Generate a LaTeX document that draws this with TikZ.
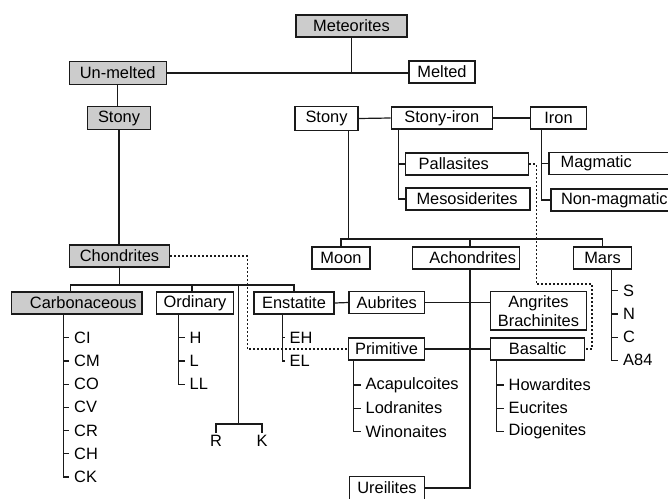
\documentclass[tikz,border=0pt]{standalone}
\usepackage{fontspec}
\setmainfont{Liberation Sans}
\usetikzlibrary{calc,positioning}
\definecolor{ink}{HTML}{1A1A1A}
\definecolor{shade}{HTML}{CCCCCC}
\tikzset{line width=1.2pt,
  every node/.style={font=\fontsize{16.4}{19}\selectfont},
  box/.style={draw=ink,line width=1.2pt,minimum height=22pt,inner sep=0pt},
  graybox/.style={box,fill=shade},
  leftbox/.style={box,align=left},
  rightbox/.style={box,align=right},
  leaf/.style={anchor=west,inner xsep=5pt,inner ysep=0pt},
  link/.style={draw=ink,line width=1.2pt},
  dotline/.style={draw=ink,line width=1.2pt,dash pattern=on 2pt off 2pt}}
\begin{document}
\begin{tikzpicture}[x=1pt,y=-1pt]
\useasboundingbox (0,0) rectangle (668,498);
\clip (0,0) rectangle (668,498);

% upper levels
\node[graybox,minimum width=111pt] (meteorites) at (351.5,26) {Meteorites};
\node[graybox,minimum width=97pt,minimum height=23.5pt] (unmelted) at (117.7,73) {Un-melted};
\node[box,minimum width=66pt] (melted) at (442,72) {Melted};
\node[graybox,minimum width=63.5pt,minimum height=23.5pt] (stonyL) at (119,118) {Stony};
\node[box,minimum width=63pt,minimum height=24pt] (stonyR) at (326.5,118.5) {Stony};
\node[box,minimum width=101pt] (stonyiron) at (441.8,118) {Stony-iron};
\node[box,minimum width=55.6pt] (iron) at (558.5,118) {Iron};
\node[leftbox,text width=97pt,inner xsep=13pt] (pallasites) at (467.2,164) {Pallasites};
\node[leftbox,text width=103pt,inner xsep=10.5pt] (mesosiderites) at (468,199) {Mesosiderites};
\node[leftbox,text width=107.6pt,inner xsep=11.7pt] (magmatic) at (614.5,163.5) {Magmatic};
\node[leftbox,text width=109pt,inner xsep=10pt] (nonmagmatic) at (615.5,200) {Non-magmatic};

% chondrites, achondrites
\node[graybox,minimum width=100pt] (chondrites) at (119.5,256) {Chondrites};
\node[box,minimum width=58pt] (moon) at (341,258) {Moon};
\node[rightbox,text width=100.1pt,inner xsep=3.7pt] (achondrites) at (466,258) {Achondrites};
\node[box,minimum width=58.5pt] (mars) at (602.5,258) {Mars};
\node[rightbox,fill=shade,text width=119.7pt,inner xsep=5.3pt] (carbonaceous) at (76.8,303) {Carbonaceous};
\node[box,minimum width=76.7pt] (ordinary) at (195,303) {Ordinary};
\node[box,minimum width=80pt] (enstatite) at (294,303) {Enstatite};
\node[box,minimum width=75.7pt] (aubrites) at (386.8,302.5) {Aubrites};
\node[box,minimum width=95.6pt,minimum height=38.3pt,align=center] (angrites) at (538.5,310.8) {Angrites\\Brachinites};
\node[box,minimum width=76.4pt] (primitive) at (386.5,349) {Primitive};
\node[box,minimum width=94pt] (basaltic) at (537.7,349) {Basaltic};
\node[box,minimum width=75.7pt,minimum height=22.5pt] (ureilites) at (387,488) {Ureilites};

% leaves
\foreach \t [count=\i] in {CI,CM,CO,CV,CR,CH,CK}
  \node[leaf] (cb\i) at (69,{314.5+23.2*\i}) {\t};
\foreach \t [count=\i] in {H,L,LL}
  \node[leaf] (od\i) at (184.5,{314.5+23.2*\i}) {\t};
\foreach \t [count=\i] in {EH,EL}
  \node[leaf] (en\i) at (284.5,{314.5+23.2*\i}) {\t};
\foreach \t [count=\i] in {Acapulcoites,Lodranites,Winonaites}
  \node[leaf] (pr\i) at (360.5,{361.7+23.2*\i}) {\t};
\foreach \t [count=\i] in {Howardites,Eucrites,Diogenites}
  \node[leaf] (bs\i) at (503.5,{361.7+23.2*\i}) {\t};
\foreach \t [count=\i] in {S,N,C,A84}
  \node[leaf] (ms\i) at (618,{267.5+23.2*\i}) {\t};
\node[inner sep=2.5pt] (rR) at (216,441) {R};
\node[inner sep=2.5pt] (rK) at (262,441) {K};

% spines and buses
\coordinate (sibus) at ($(stonyiron.south west)+(8,0)$);
\coordinate (irbus) at ($(iron.south west)+(11.5,0)$);
\coordinate (sdrop) at ($(stonyR.south east)+(-10,0)$);
\coordinate (achx) at ($(achondrites.south)+(4,0)$);
\coordinate (sbus) at (0,239);
\coordinate (chbus) at (0,285);
\coordinate (rkjoin) at (238.5,424);
\coordinate (cbspine) at ($(carbonaceous.south west)+(52.3,0)$);
\coordinate (odspine) at ($(ordinary.south west)+(22.6,0)$);
\coordinate (enspine) at ($(enstatite.south west)+(28.7,0)$);
\coordinate (prspine) at ($(primitive.south west)+(5.7,0)$);
\coordinate (bsspine) at ($(basaltic.south west)+(6,0)$);
\coordinate (msspine) at ($(mars.south)+(8.8,0)$);
\coordinate (dotturn) at (592,284);

\draw[link] (unmelted.east) -- (unmelted.east -| melted.west);
\draw[link] (meteorites.south) -- (meteorites.south |- unmelted.east);
\draw[link] (unmelted.south) -- (unmelted.south |- stonyL.north);
\draw[link] (stonyL.south) -- (stonyL.south |- chondrites.north);
\draw[link] (stonyR.east) -- (stonyiron.west);
\draw[link] (stonyiron.east) -- (iron.west);
\draw[link] (sibus) |- (mesosiderites.west);
\draw[link] (sibus |- pallasites.west) -- (pallasites.west);
\draw[link] (irbus) |- (nonmagmatic.west);
\draw[link] (irbus |- magmatic.west) -- (magmatic.west);

\draw[link] (sdrop) -- (sdrop |- sbus);
\draw[link] (moon.north) |- (sbus -| mars.north) -- (mars.north);
\draw[link] (achx |- sbus) -- (achx |- achondrites.north);
\draw[link] (achx) |- (ureilites.east);
\draw[link] (enstatite.east) -- (aubrites.west);
\draw[link] (aubrites.east) -- (aubrites.east -| angrites.west);
\draw[link] (primitive.east) -- (basaltic.west);

\draw[link] (chondrites.south) -- (chondrites.south |- chbus);
\draw[link] ([xshift=-6pt]carbonaceous.north) |- (chbus -| enstatite.north) -- (enstatite.north);
\draw[link] ([xshift=-3pt]ordinary.north) -- ([xshift=-3pt]ordinary.north |- chbus);
\draw[link] (rkjoin) -- (rkjoin |- chbus);
\draw[link] (rR.north) |- (rkjoin) -| (rK.north);

\draw[link] (cbspine) |- (cb7.west);
\foreach \i in {1,...,6} \draw[link] (cbspine |- cb\i.west) -- (cb\i.west);
\draw[link] (odspine) |- (od3.west);
\foreach \i in {1,2} \draw[link] (odspine |- od\i.west) -- (od\i.west);
\draw[link] (enspine) |- (en2.west);
\draw[link] (enspine |- en1.west) -- (en1.west);
\draw[link] (prspine) |- (pr3.west);
\foreach \i in {1,2} \draw[link] (prspine |- pr\i.west) -- (pr\i.west);
\draw[link] (bsspine) |- (bs3.west);
\foreach \i in {1,2} \draw[link] (bsspine |- bs\i.west) -- (bs\i.west);
\draw[link] (msspine) |- (ms4.west);
\foreach \i in {1,2,3} \draw[link] (msspine |- ms\i.west) -- (ms\i.west);

% dotted links
\draw[dotline] (chondrites.east) -- ++(77,0) |- (primitive.west);
\draw[dotline] (pallasites.east) -- ++(7,0) |- (dotturn) |- (basaltic.east);
\end{tikzpicture}
\end{document}
